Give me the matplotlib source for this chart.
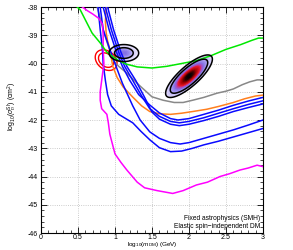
import numpy as np
import matplotlib
matplotlib.use("Agg")
import matplotlib.pyplot as plt
from matplotlib.colors import LinearSegmentedColormap

plt.rcParams['font.family'] = ['Liberation Sans', 'DejaVu Sans']
plt.rcParams['axes.unicode_minus'] = False
plt.rcParams['mathtext.fontset'] = 'custom'
plt.rcParams['mathtext.rm'] = 'Liberation Sans'
plt.rcParams['mathtext.it'] = 'Liberation Sans:italic'

# ---- limit curves (x = log10 m_DM, y = log10 sigma) ----
green_x = [0.49, 0.53, 0.6, 0.69, 0.8, 0.89, 0.95, 1.05, 1.15, 1.3, 1.5, 1.7, 1.9, 2.1, 2.3, 2.5, 2.7, 2.85, 2.94, 3.0]
green_y = [-38.0, -38.1, -38.46, -38.92, -39.27, -39.6, -39.72, -39.9, -40.02, -40.12, -40.16, -40.1, -40.0, -39.9, -39.72, -39.5, -39.33, -39.18, -39.1, -39.1]

magenta_x = [0.56, 0.62, 0.7, 0.78, 0.83, 0.84, 0.84, 0.85, 0.82, 0.8, 0.8, 0.82, 0.89, 0.91, 0.93, 0.97, 1.0, 1.08, 1.16, 1.3, 1.4, 1.57, 1.78, 1.92, 2.1, 2.25, 2.42, 2.55, 2.69, 2.8, 2.92, 3.0]
magenta_y = [-38.0, -38.12, -38.25, -38.4, -38.6, -39.0, -39.5, -40.0, -40.6, -41.0, -41.3, -41.6, -41.8, -42.1, -42.5, -42.9, -43.2, -43.5, -43.77, -44.2, -44.4, -44.5, -44.6, -44.5, -44.3, -44.2, -44.0, -43.9, -43.77, -43.7, -43.6, -43.65]

orange_x = [0.88, 0.87, 0.88, 0.9, 0.93, 0.97, 1.03, 1.11, 1.24, 1.36, 1.47, 1.6, 1.75, 1.9, 2.05, 2.24, 2.4, 2.6, 2.75, 2.9, 3.0]
orange_y = [-38.0, -38.5, -38.9, -39.2, -39.5, -40.1, -40.5, -40.83, -41.19, -41.5, -41.7, -41.78, -41.8, -41.76, -41.7, -41.62, -41.52, -41.38, -41.25, -41.15, -41.12]

gray_x = [0.76, 0.8, 0.85, 0.9, 0.97, 1.05, 1.16, 1.34, 1.5, 1.65, 1.8, 1.92, 2.05, 2.2, 2.38, 2.5, 2.6, 2.72, 2.82, 2.92, 3.0]
gray_y = [-38.0, -38.4, -38.9, -39.3, -39.88, -40.1, -40.34, -40.8, -41.18, -41.3, -41.38, -41.38, -41.3, -41.2, -41.05, -40.98, -40.9, -40.75, -40.65, -40.58, -40.58]

blue5_x = [0.77, 0.8, 0.83, 0.84, 0.87, 0.9, 0.95, 1.05, 1.24, 1.35, 1.47, 1.6, 1.75, 1.9, 2.05, 2.2, 2.4, 2.6, 2.8, 3.0]
blue5_y = [-38.0, -38.8, -39.5, -40.0, -40.6, -41.1, -41.5, -41.8, -42.1, -42.4, -42.7, -42.98, -43.12, -43.1, -43.0, -42.88, -42.75, -42.6, -42.45, -42.3]

blue4_x = [0.8, 0.84, 0.93, 1.0, 1.1, 1.24, 1.34, 1.47, 1.6, 1.75, 1.88, 2.0, 2.2, 2.4, 2.6, 2.8, 3.0]
blue4_y = [-38.0, -38.8, -39.5, -40.0, -40.7, -41.5, -42.0, -42.42, -42.65, -42.8, -42.85, -42.8, -42.65, -42.5, -42.35, -42.18, -42.0]

blue1_x = [0.84, 0.92, 1.02, 1.1, 1.2, 1.32, 1.47, 1.6, 1.75, 1.85, 2.0, 2.2, 2.4, 2.6, 2.8, 3.0]
blue1_y = [-38.0, -38.8, -39.6, -40.1, -40.6, -41.1, -41.47, -41.75, -41.95, -42.0, -41.95, -41.8, -41.65, -41.48, -41.33, -41.2]

blue2_x = [0.87, 0.95, 1.05, 1.13, 1.24, 1.36, 1.47, 1.6, 1.75, 1.87, 2.0, 2.2, 2.4, 2.6, 2.8, 3.0]
blue2_y = [-38.0, -38.8, -39.6, -40.1, -40.6, -41.15, -41.6, -41.87, -42.05, -42.1, -42.05, -41.92, -41.76, -41.6, -41.45, -41.32]

blue3_x = [0.9, 0.98, 1.08, 1.16, 1.28, 1.4, 1.5, 1.6, 1.75, 1.87, 2.0, 2.2, 2.4, 2.6, 2.8, 3.0]
blue3_y = [-38.0, -38.8, -39.6, -40.1, -40.6, -41.2, -41.72, -41.97, -42.15, -42.2, -42.15, -42.02, -41.87, -41.7, -41.56, -41.43]

# ---- contour regions (centre, half widths at outer contour, correlation) ----
blob_cx = [1.12, 2.0]
blob_cy = [-39.63, -40.45]
blob_sx = [0.2, 0.316]
blob_sy = [0.3, 0.753]
blob_rho = [0.0, 0.80]
blob_peak = [0.4, 1.0]
blob_inner = [0.63, 0.8]

red_cx, red_cy = 0.88, -39.88
red_sx, red_sy, red_rho = 0.147, 0.366, -0.28
red_inner = 0.7


def dist(X, Y, cx, cy, sx, sy, rho):
    u = (X - cx) / sx
    v = (Y - cy) / sy
    return np.sqrt((u * u - 2 * rho * u * v + v * v) / (1 - rho * rho))


fig = plt.figure(figsize=(2.93, 2.5), dpi=100)
ax = fig.add_axes([41 / 293, 17 / 250, 222 / 293, 226 / 250])

gx = np.linspace(0, 3, 700)
gy = np.linspace(-46, -38, 900)
X, Y = np.meshgrid(gx, gy)

cmap = LinearSegmentedColormap.from_list('root', [
    (0.0, '#f7f5fe'), (0.1, '#ddd7f9'), (0.25, '#a89cf2'), (0.4, '#8470e4'),
    (0.5, '#b048b8'), (0.62, '#e8182c'), (0.82, '#a00000'), (1.0, '#000000')])

C = np.full(X.shape, np.nan)
for cx, cy, sx, sy, rho, pk, inn in zip(blob_cx, blob_cy, blob_sx, blob_sy, blob_rho, blob_peak, blob_inner):
    D = dist(X, Y, cx, cy, sx, sy, rho)
    val = np.where(D < 1, pk * np.exp(-2.6 * D ** 2), np.nan)
    C = np.fmax(C, val)
    ax.contour(X, Y, D, levels=[inn, 1.0], colors='black', linewidths=1.1, zorder=4)
ax.contourf(X, Y, C, levels=np.linspace(0, 1, 60), cmap=cmap, vmin=0, vmax=1, zorder=2)

DR = dist(X, Y, red_cx, red_cy, red_sx, red_sy, red_rho)
ax.contour(X, Y, DR, levels=[red_inner, 1.0], colors='#ff0000', linewidths=1.0, zorder=3)

lw = 1.1
ax.plot(gray_x, gray_y, color='#888888', lw=lw, zorder=3)
ax.plot(orange_x, orange_y, color='#ff7f1e', lw=lw, zorder=3)
for bx, by in [(blue1_x, blue1_y), (blue2_x, blue2_y), (blue3_x, blue3_y),
               (blue4_x, blue4_y), (blue5_x, blue5_y)]:
    ax.plot(bx, by, color='#0a0aff', lw=lw, zorder=3)
ax.plot(magenta_x, magenta_y, color='#ff00ff', lw=lw, zorder=3)
ax.plot(green_x, green_y, color='#00e800', lw=lw, zorder=3)

ax.set_xlim(0, 3)
ax.set_ylim(-46, -38)
ax.set_xticks([0, 0.5, 1, 1.5, 2, 2.5, 3])
ax.set_xticklabels(['0', '0.5', '1', '1.5', '2', '2.5', '3'])
ax.set_yticks(np.arange(-46, -37, 1))
ax.set_xticks(np.arange(0, 3.01, 0.1), minor=True)
ax.set_yticks(np.arange(-46, -37.9, 0.2), minor=True)
ax.grid(True, which='major', color='#bbbbbb', linestyle=':', linewidth=0.6, zorder=0)
ax.set_axisbelow(True)
ax.tick_params(which='major', direction='in', top=True, right=True, length=4.3, width=0.6,
               labelsize=5, pad=2)
ax.tick_params(axis='x', which='major', pad=1)
ax.tick_params(which='minor', direction='in', top=True, right=True, length=2.2, width=0.5)
for s in ax.spines.values():
    s.set_linewidth(0.8)

ax.set_xlabel(r'log$_{10}$($m_{\rm DM}$) (GeV)', fontsize=4.6, va='center')
ax.xaxis.set_label_coords(0.5, -0.052)
ax.set_ylabel(r'log$_{10}$($\sigma_{n}^{\rm SI}$) (cm$^{2}$)', fontsize=5)
ax.yaxis.set_label_coords(-0.1, 0.56)

ax.text(2.96, -45.5, 'Fixed astrophysics (SMH)', ha='right', va='center', fontsize=4.8, zorder=5)
ax.text(2.96, -45.76, 'Elastic spin\u2212independent DM', ha='right', va='center', fontsize=4.8, zorder=5)

fig.savefig('out.png', dpi=100)
